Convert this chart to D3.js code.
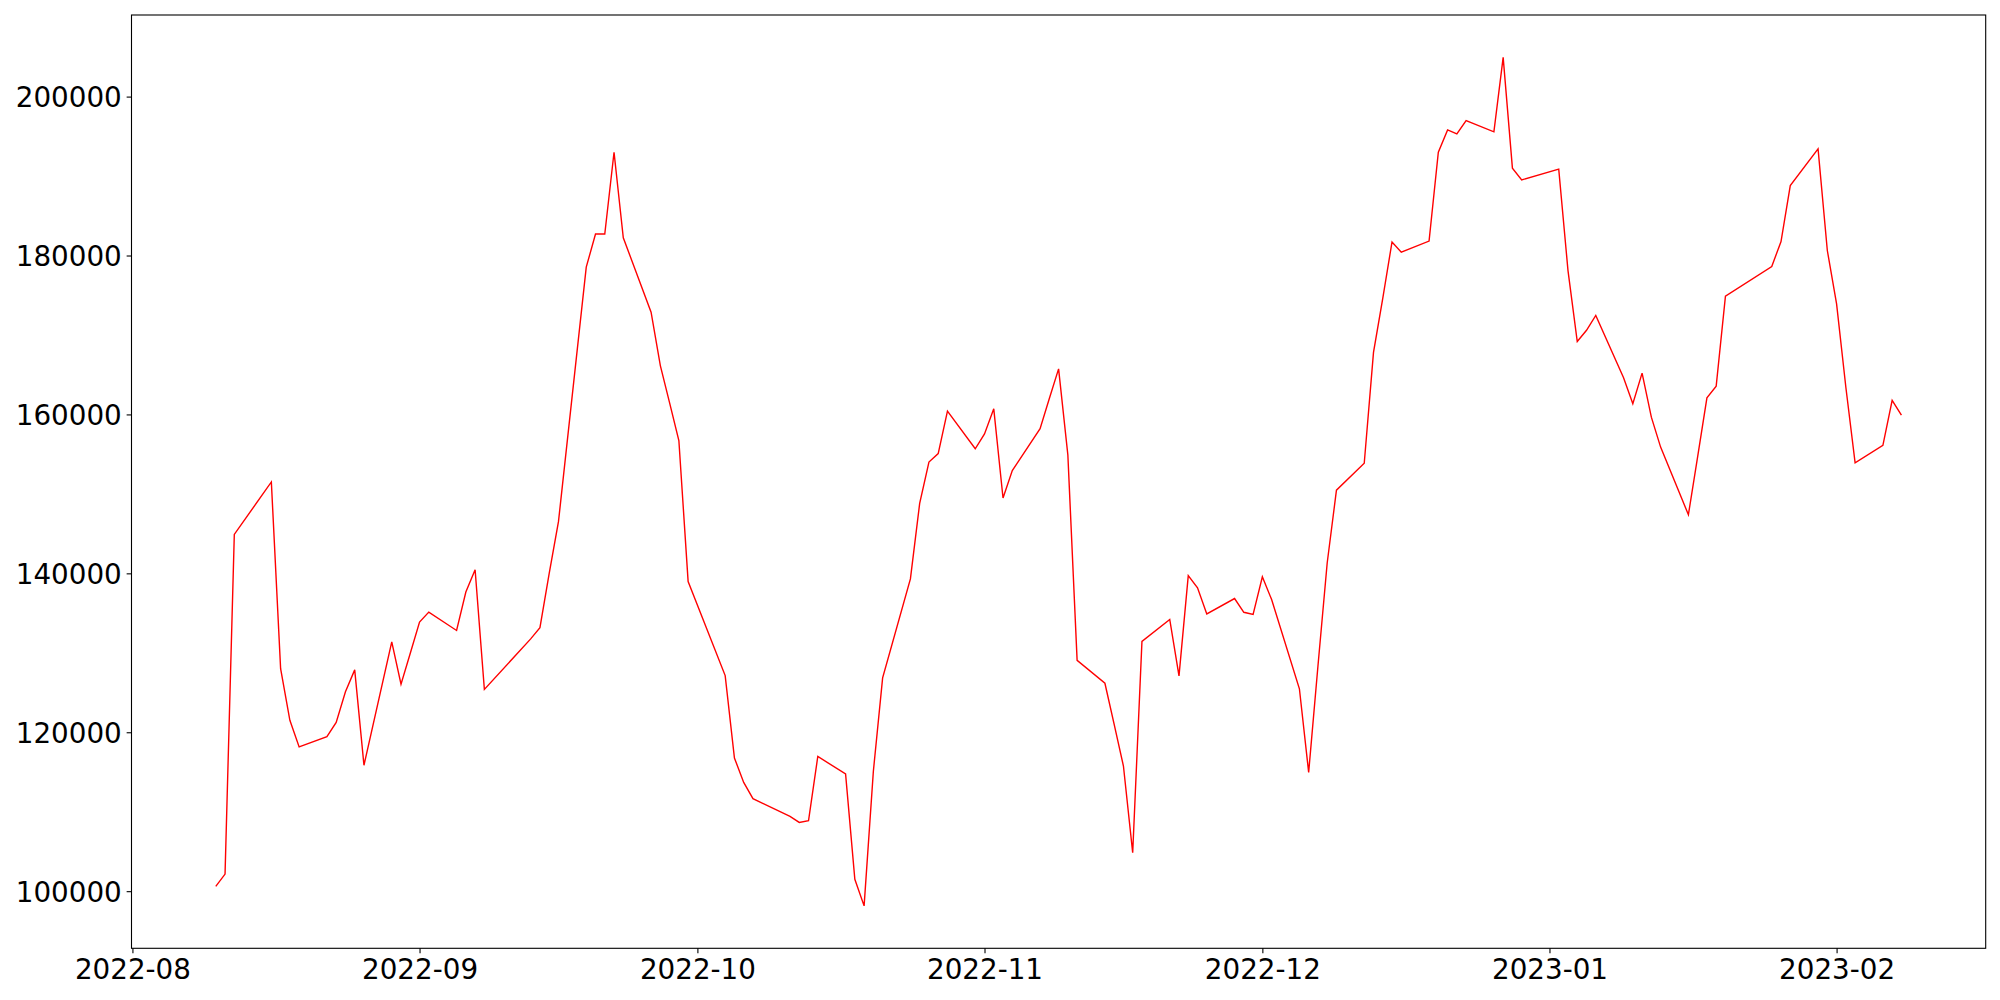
<!DOCTYPE html>
<html>
<head>
<meta charset="utf-8">
<script src="https://cdn.jsdelivr.net/npm/d3@7"></script>
<style>
  html, body { margin: 0; padding: 0; background: #fff; }
  svg { display: block; }
  text { font-family: "DejaVu Sans", sans-serif; }
</style>
</head>
<body>
<svg id="chart" width="2000" height="1000"></svg>
<script>
// ---- data ----
const dates = [
  "2022-08-10","2022-08-11","2022-08-12","2022-08-16","2022-08-17","2022-08-18","2022-08-19",
  "2022-08-22","2022-08-23","2022-08-24","2022-08-25","2022-08-26","2022-08-29","2022-08-30","2022-08-31",
  "2022-09-01","2022-09-02","2022-09-05","2022-09-06","2022-09-07","2022-09-08","2022-09-13","2022-09-14",
  "2022-09-15","2022-09-16","2022-09-19","2022-09-20","2022-09-21","2022-09-22","2022-09-23","2022-09-26",
  "2022-09-27","2022-09-28","2022-09-29","2022-09-30",
  "2022-10-04","2022-10-05","2022-10-06","2022-10-07","2022-10-11","2022-10-12","2022-10-13","2022-10-14",
  "2022-10-17","2022-10-18","2022-10-19","2022-10-20","2022-10-21","2022-10-24","2022-10-25","2022-10-26",
  "2022-10-27","2022-10-28","2022-10-31",
  "2022-11-01","2022-11-02","2022-11-03","2022-11-04","2022-11-07","2022-11-08","2022-11-09","2022-11-10",
  "2022-11-11","2022-11-14","2022-11-15","2022-11-16","2022-11-17","2022-11-18","2022-11-21","2022-11-22",
  "2022-11-23","2022-11-24","2022-11-25","2022-11-28","2022-11-29","2022-11-30",
  "2022-12-01","2022-12-02","2022-12-05","2022-12-06","2022-12-07","2022-12-08","2022-12-09","2022-12-12",
  "2022-12-13","2022-12-14","2022-12-15","2022-12-16","2022-12-19","2022-12-20","2022-12-21","2022-12-22",
  "2022-12-23","2022-12-26","2022-12-27","2022-12-28","2022-12-29",
  "2023-01-02","2023-01-03","2023-01-04","2023-01-05","2023-01-06","2023-01-09","2023-01-10","2023-01-11",
  "2023-01-12","2023-01-13","2023-01-16","2023-01-17","2023-01-18","2023-01-19","2023-01-20","2023-01-25",
  "2023-01-26","2023-01-27","2023-01-30","2023-01-31",
  "2023-02-01","2023-02-02","2023-02-03","2023-02-06","2023-02-07","2023-02-08"
];
const values = [
  100600,102150,144900,151500,128000,121500,118150,
  119450,121250,125100,127850,115850,131370,126050,129950,
  133870,135120,132810,137650,140450,125400,131750,133170,
  140000,146500,178540,182700,182700,193000,182230,172870,
  166150,161450,156720,138970,
  127130,116760,113690,111640,109400,108650,108870,116950,
  114760,101500,98150,115100,126850,139300,148800,154000,
  155070,160420,155680,
  157550,160700,149480,152930,158200,162000,165730,154900,
  129050,126170,121000,115750,104840,131430,134190,127100,
  139720,138180,134900,136830,135100,134820,
  139570,136700,125470,114950,128300,141300,150470,153850,
  167800,174620,181700,180410,181820,192990,195810,195300,
  196970,195560,204930,191000,189520,
  190870,178100,169170,170590,172450,164620,161340,165200,
  159660,155890,147380,154700,162080,163560,174880,178620,
  181760,188800,193420,180630,
  173920,163420,153900,156100,161760,159910
];
const xTickLabels = ["2022-08","2022-09","2022-10","2022-11","2022-12","2023-01","2023-02"];
const yTickValues = [100000,120000,140000,160000,180000,200000];

(function () {
  // ---- layout ----
  const svg = d3.select("#chart");
  const pLeft = 131.5, pRight = 1985.7, pTop = 15, pBottom = 948.3;
  const parse = d3.utcParse("%Y-%m-%d");
  const parseM = d3.utcParse("%Y-%m");
  const data = dates.map((d, i) => ({ date: parse(d), value: values[i] }));

  const tExt = d3.extent(data, d => +d.date);
  const tPad = (tExt[1] - tExt[0]) * 0.05;
  const x = d3.scaleUtc().domain([new Date(tExt[0] - tPad), new Date(tExt[1] + tPad)]).range([pLeft, pRight]);
  const vExt = d3.extent(values);
  const vPad = (vExt[1] - vExt[0]) * 0.05;
  const y = d3.scaleLinear().domain([vExt[0] - vPad, vExt[1] + vPad]).range([pBottom, pTop]);

  svg.append("rect").attr("width", 2000).attr("height", 1000).attr("fill", "#fff");

  // line
  const line = d3.line().x(d => x(d.date)).y(d => y(d.value));
  svg.append("path").datum(data)
    .attr("d", line)
    .attr("fill", "none")
    .attr("stroke", "#ff0000")
    .attr("stroke-width", 1.4)
    .attr("stroke-linejoin", "miter");

  // axes
  const fs = 27.78;
  const xAxis = d3.axisBottom(x)
    .tickValues(xTickLabels.map(s => parseM(s)))
    .tickFormat(d3.utcFormat("%Y-%m"))
    .tickSize(4.86).tickPadding(4.86);
  const gx = svg.append("g").attr("transform", `translate(0,${pBottom})`).call(xAxis);
  gx.select(".domain").remove();
  gx.selectAll(".tick line").attr("stroke", "#000").attr("stroke-width", 1.1);
  gx.selectAll(".tick text").attr("font-size", fs).attr("fill", "#000")
    .attr("font-family", "DejaVu Sans").attr("dy", "0.76em");

  const yAxis = d3.axisLeft(y)
    .tickValues(yTickValues)
    .tickFormat(d3.format("d"))
    .tickSize(4.86).tickPadding(4.86);
  const gy = svg.append("g").attr("transform", `translate(${pLeft},0)`).call(yAxis);
  gy.select(".domain").remove();
  gy.selectAll(".tick line").attr("stroke", "#000").attr("stroke-width", 1.1);
  gy.selectAll(".tick text").attr("font-size", fs).attr("fill", "#000")
    .attr("font-family", "DejaVu Sans").attr("dy", "0.36em");

  // frame (spines)
  svg.append("rect")
    .attr("x", pLeft).attr("y", pTop)
    .attr("width", pRight - pLeft).attr("height", pBottom - pTop)
    .attr("fill", "none").attr("stroke", "#000").attr("stroke-width", 1.1);
})();
</script>
</body>
</html>
